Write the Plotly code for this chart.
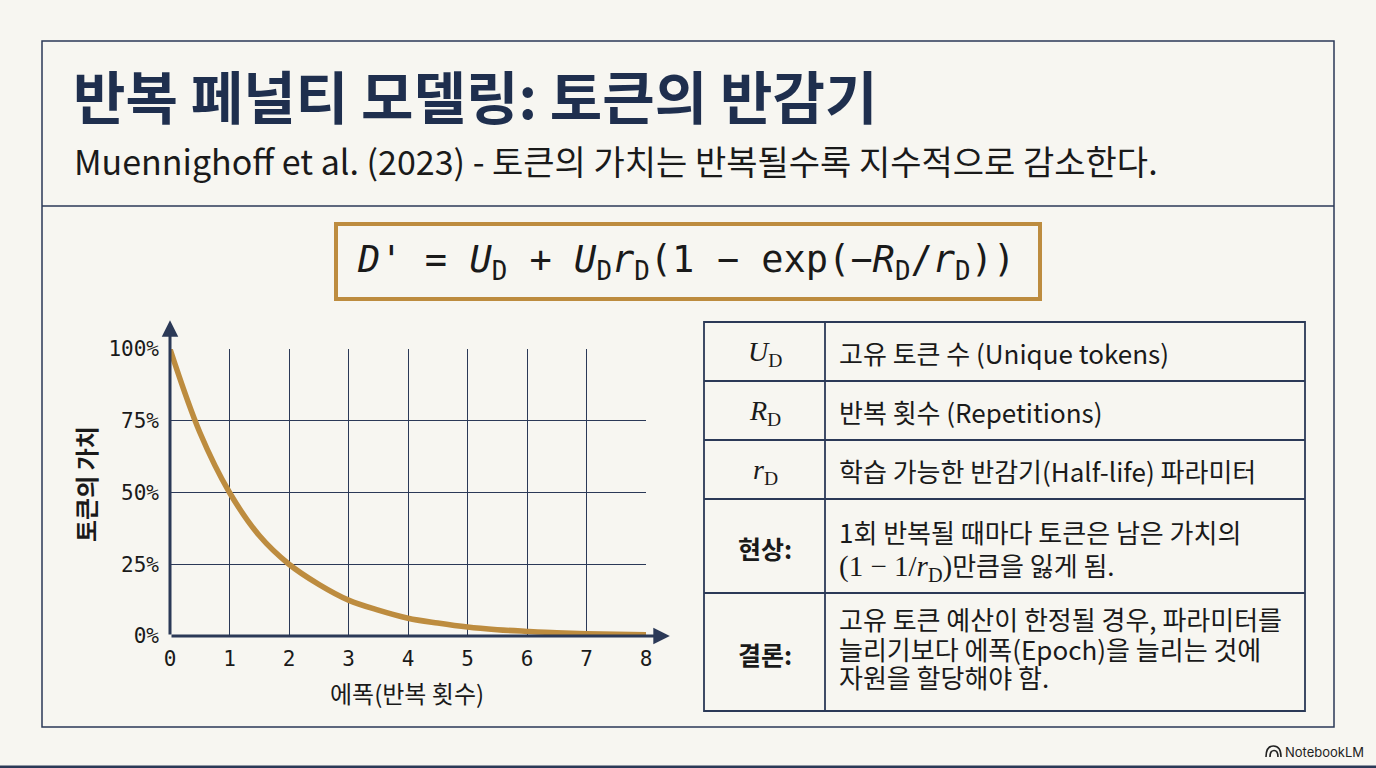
import plotly.graph_objects as go

W, H = 1376, 768

# ── Data ─────────────────────────────────────────────────────────────────────
EPOCHS = [0, 0.5, 1, 1.5, 2, 2.5, 3, 3.5, 4, 4.5, 5, 5.5, 6, 6.5, 7, 7.5, 8]
VALUE_PCT = [100, 71, 50, 35, 25, 18, 12.5, 9, 6.2, 4.5, 3.1, 2.2, 1.6, 1.1, 0.8, 0.6, 0.4]
X_TICKS = [0, 1, 2, 3, 4, 5, 6, 7, 8]
Y_TICKS = [0, 25, 50, 75, 100]
Y_TICK_LABELS = ["0%", "25%", "50%", "75%", "100%"]

TITLE = "반복 페널티 모델링: 토큰의 반감기"
SUBTITLE = "Muennighoff et al. (2023) - 토큰의 가치는 반복될수록 지수적으로 감소한다."
FORMULA = ("<i>D'</i> = <i>U</i><sub>D</sub> + <i>U</i><sub>D</sub><i>r</i><sub>D</sub>"
           "(1 − exp(−<i>R</i><sub>D</sub>/<i>r</i><sub>D</sub>))")
X_TITLE = "에폭(반복 횟수)"
Y_TITLE = "토큰의 가치"

TABLE_LABELS = ["<i>U</i><sub>D</sub>", "<i>R</i><sub>D</sub>", "<i>r</i><sub>D</sub>", "현상:", "결론:"]
TABLE_LABEL_IS_MATH = [True, True, True, False, False]
TABLE_TEXT = [
    ["고유 토큰 수 (Unique tokens)"],
    ["반복 횟수 (Repetitions)"],
    ["학습 가능한 반감기(Half-life) 파라미터"],
    ["1회 반복될 때마다 토큰은 남은 가치의",
     "<span style='font-family:Liberation Serif;font-size:29px'>(1 − 1/<i>r</i><sub>D</sub>)</span>만큼을 잃게 됨."],
    ["고유 토큰 예산이 한정될 경우, 파라미터를",
     "늘리기보다 에폭(Epoch)을 늘리는 것에",
     "자원을 할당해야 함."],
]

# ── Style ────────────────────────────────────────────────────────────────────
BG = "#f7f6f1"
NAVY = "#2b3957"
TITLE_COLOR = "#1f2f4e"
TEXT = "#1a1a1a"
GOLD = "#bd8c3f"
KR = "Noto Sans CJK KR"
MONO = "DejaVu Sans Mono"
SERIF = "Liberation Serif"

ROW_EDGES = [322, 381, 440, 499, 593, 711]
COL_EDGES = [704, 825, 1305]
# vertical offsets (px from row middle) of text lines in multi-line rows
LINE_OFFSETS = {2: [-15, 20], 3: [-34, -4, 24]}


def px(x):
    return x / W


def py(y):
    return 1 - y / H


fig = go.Figure()

fig.add_trace(go.Scatter(
    x=EPOCHS, y=VALUE_PCT, mode="lines",
    line=dict(color=GOLD, width=5.5, shape="spline", smoothing=1.0),
    cliponaxis=False, hoverinfo="skip", showlegend=False,
))

shapes = [
    # outer frame + divider
    dict(type="rect", xref="paper", yref="paper", x0=px(42), x1=px(1334), y0=py(41), y1=py(727),
         line=dict(color=NAVY, width=1.5), layer="below"),
    dict(type="line", xref="paper", yref="paper", x0=px(42), x1=px(1334), y0=py(206), y1=py(206),
         line=dict(color=NAVY, width=1.5)),
    # formula box
    dict(type="rect", xref="paper", yref="paper", x0=px(336), x1=px(1040), y0=py(224), y1=py(299),
         line=dict(color=GOLD, width=4)),
    # bottom edge band
    dict(type="rect", xref="paper", yref="paper", x0=0, x1=1, y0=0, y1=py(765.5),
         line=dict(width=0), fillcolor=NAVY),
    # table outline and column divider
    dict(type="rect", xref="paper", yref="paper", x0=px(COL_EDGES[0]), x1=px(COL_EDGES[2]),
         y0=py(ROW_EDGES[0]), y1=py(ROW_EDGES[-1]), line=dict(color=NAVY, width=1.8)),
    dict(type="line", xref="paper", yref="paper", x0=px(COL_EDGES[1]), x1=px(COL_EDGES[1]),
         y0=py(ROW_EDGES[0]), y1=py(ROW_EDGES[-1]), line=dict(color=NAVY, width=1.8)),
    # NotebookLM glyph
    dict(type="path", xref="paper", yref="paper",
         path=f"M {px(1266)} {py(757)} Q {px(1266)} {py(746)} {px(1273.5)} {py(746)} "
              f"Q {px(1281)} {py(746)} {px(1281)} {py(757)}",
         line=dict(color="#222", width=1.6)),
    dict(type="path", xref="paper", yref="paper",
         path=f"M {px(1270)} {py(757)} Q {px(1270)} {py(750.5)} {px(1274)} {py(750.5)} "
              f"Q {px(1278)} {py(750.5)} {px(1278)} {py(757)}",
         line=dict(color="#222", width=1.6)),
]
for y in ROW_EDGES[1:-1]:
    shapes.append(dict(type="line", xref="paper", yref="paper", x0=px(COL_EDGES[0]), x1=px(COL_EDGES[2]),
                       y0=py(y), y1=py(y), line=dict(color=NAVY, width=1.8)))

annotations = [
    dict(text=f"<b>{TITLE}</b>", x=px(71), y=py(94), xanchor="left", yanchor="middle",
         font=dict(family=KR, size=57, color=TITLE_COLOR)),
    dict(text=SUBTITLE, x=px(72), y=py(160), xanchor="left", yanchor="middle",
         font=dict(family=KR, size=34, color=TEXT)),
    dict(text=FORMULA, x=px(686), y=py(262), xanchor="center", yanchor="middle",
         font=dict(family=MONO, size=37, color=TEXT)),
    dict(text=f"<b>{Y_TITLE}</b>", x=px(85), y=py(484), textangle=-90, xanchor="center", yanchor="middle",
         font=dict(family=KR, size=24, color=TEXT)),
    dict(text=X_TITLE, x=px(407), y=py(692), xanchor="center", yanchor="middle",
         font=dict(family=KR, size=24, color=TEXT)),
    dict(text="NotebookLM", x=px(1366), y=py(752), xanchor="right", yanchor="middle",
         font=dict(family="Inter", size=13, color="#222")),
    # axis arrows
    dict(x=0, y=110, ax=0, ay=0, xref="x", yref="y", axref="x", ayref="y", text="",
         showarrow=True, arrowhead=2, arrowsize=1.1, arrowwidth=3, arrowcolor=NAVY, standoff=0),
    dict(x=8.4, y=0, ax=0, ay=0, xref="x", yref="y", axref="x", ayref="y", text="",
         showarrow=True, arrowhead=2, arrowsize=1.1, arrowwidth=3, arrowcolor=NAVY, standoff=0),
]

for i, label in enumerate(TABLE_LABELS):
    top, bottom = ROW_EDGES[i], ROW_EDGES[i + 1]
    mid = (top + bottom) / 2
    if TABLE_LABEL_IS_MATH[i]:
        font = dict(family=SERIF, size=28, color=TEXT)
        text = label
    else:
        font = dict(family=KR, size=25, color=TEXT)
        text = f"<b>{label}</b>"
    annotations.append(dict(text=text, x=px(765), y=py(mid + 2), xanchor="center", yanchor="middle", font=font))

    lines = TABLE_TEXT[i]
    offsets = LINE_OFFSETS.get(len(lines), [1])
    for line, off in zip(lines, offsets):
        annotations.append(dict(text=line, x=px(837), y=py(mid + off), xanchor="left", yanchor="middle",
                                align="left", font=dict(family=KR, size=26, color=TEXT)))

for a in annotations:
    a.setdefault("xref", "paper")
    a.setdefault("yref", "paper")
    a.setdefault("showarrow", False)

fig.update_layout(
    width=W, height=H,
    margin=dict(l=0, r=0, t=0, b=0, pad=0, autoexpand=False),
    paper_bgcolor=BG, plot_bgcolor=BG,
    shapes=shapes, annotations=annotations,
    xaxis=dict(
        domain=[px(170), px(646)], range=[0, 8], tickvals=X_TICKS, automargin=False,
        showgrid=True, gridcolor=NAVY, gridwidth=1, zeroline=False, showline=False,
        ticks="", ticklabelstandoff=8,
        tickfont=dict(family=MONO, size=21, color=TEXT), fixedrange=True,
    ),
    yaxis=dict(
        domain=[py(636), py(349)], range=[0, 100], tickvals=Y_TICKS, ticktext=Y_TICK_LABELS,
        automargin=False,
        showgrid=True, gridcolor=NAVY, gridwidth=1, zeroline=False, showline=False,
        ticks="", ticklabelstandoff=10,
        tickfont=dict(family=MONO, size=21, color=TEXT), fixedrange=True,
    ),
)

# page body has a default 8px margin; drop it so the slide fills the window
fig.write_html(
    "out.html",
    config={"displayModeBar": False},
    post_script="document.body.style.margin='0';document.body.style.overflow='hidden';"
                f"document.body.style.background='{BG}';",
)
